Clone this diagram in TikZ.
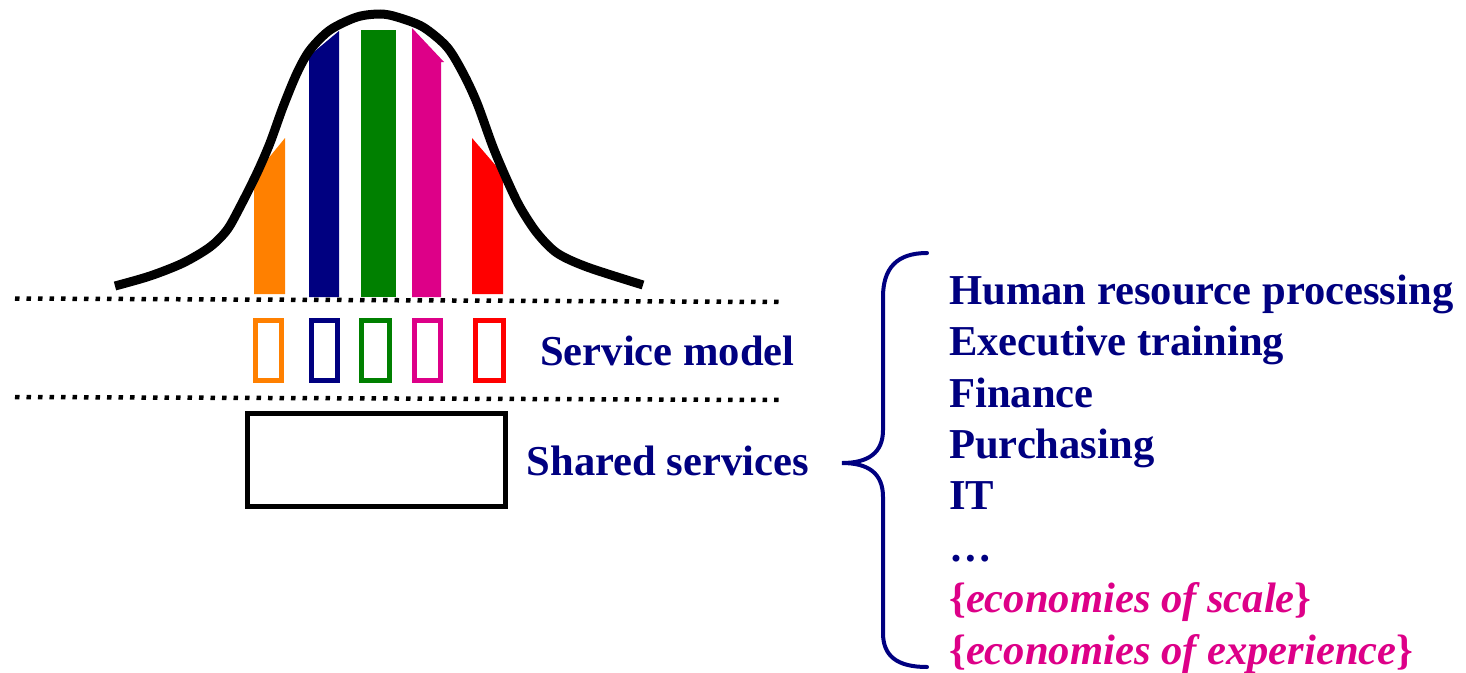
\documentclass[tikz,border=0pt]{standalone}
\usepackage{fontspec}
\setmainfont{Liberation Serif}
\definecolor{navyc}{RGB}{0,0,128}
\definecolor{greenc}{RGB}{0,128,0}
\definecolor{orangec}{RGB}{255,128,0}
\definecolor{magc}{RGB}{221,0,136}
\definecolor{redc}{RGB}{255,0,0}
\begin{document}
\begin{tikzpicture}[x=1pt,y=-1pt,
  lbl/.style={inner sep=0pt, anchor=base west, text=navyc,
    font=\fontsize{42.6}{51.4}\selectfont\bfseries},
  mlbl/.style={lbl, text=magc},
  sbox/.style={draw, line width=5pt, minimum width=26pt, minimum height=60pt, inner sep=0pt},
  dotline/.style={line width=4.5pt, dash pattern=on 4.5pt off 7pt}]
\useasboundingbox (0,0) rectangle (1466,672);
% bars under the curve
\fill[orangec] (254,294) -- (285,294) -- (285,138) -- (254,176) -- cycle;
\fill[navyc] (309,297) -- (339,297) -- (339,31) -- (309,56) -- cycle;
\fill[greenc] (361,297) -- (396,297) -- (396,30) -- (361,30) -- cycle;
\fill[magc] (412,297) -- (441,297) -- (441,62) -- (444,62) -- (412,28) -- cycle;
\fill[redc] (472,294) -- (503,294) -- (503,174) -- (472,138) -- cycle;
% bell curve
\draw[line width=9pt] plot[smooth, tension=0.5] coordinates {
  (115,286) (150,276) (183,263) (210,247) (227,230) (240,207) (257,173)
  (270,143) (283,107) (297,73) (310,50) (330,30) (357,17) (380,14)
  (397,17) (423,27) (447,47) (463,73) (477,103) (493,147) (507,180)
  (520,207) (537,233) (557,253) (587,267) (643,285)};
% dotted lines
\coordinate (d1a) at (15,298.5);
\coordinate (d1b) at (783,302);
\coordinate (d2a) at (15,397);
\coordinate (d2b) at (782,400);
\draw[dotline] (d1a) -- (d1b);
\draw[dotline] (d2a) -- (d2b);
% small service boxes
\node[sbox, draw=orangec] (b1) at (268.5,350.5) {};
\node[sbox, draw=navyc] (b2) at (324,350.5) {};
\node[sbox, draw=greenc, minimum width=28pt] (b3) at (375.5,350.5) {};
\node[sbox, draw=magc] (b4) at (427,350.5) {};
\node[sbox, draw=redc, minimum width=28pt] (b5) at (489.5,350.5) {};
% shared services box
\node[draw, line width=5.3pt, minimum width=257.6pt, minimum height=92.6pt, inner sep=0pt] (big) at (376.5,460) {};
% labels
\node[lbl] (svc) at (540,365) {Service model};
\node[lbl] (shr) at (526.5,475) {Shared services};
% brace
\draw[navyc, line width=4pt, line cap=round]
  (927,253) .. controls (897,253) and (883,268) .. (883,297) -- (883,430)
  .. controls (883,453) and (868,463) .. (842,463)
  .. controls (868,463) and (883,473) .. (883,497) -- (883,633)
  .. controls (883,656) and (897,667) .. (927,667);
% list
\node[lbl] (l1) at (949,304) {Human resource processing};
\node[lbl] (l2) at (949,355.5) {Executive training};
\node[lbl] (l3) at (949,407) {Finance};
\node[lbl] (l4) at (949,458) {Purchasing};
\node[lbl] (l5) at (949,509.5) {IT};
\node[lbl] (l6) at (949,561) {…};
\node[mlbl] (l7) at (949,612.5) {\{\textit{economies of scale}\}};
\node[mlbl] (l8) at (949,664) {\{\textit{economies of experience}\}};
\end{tikzpicture}
\end{document}
